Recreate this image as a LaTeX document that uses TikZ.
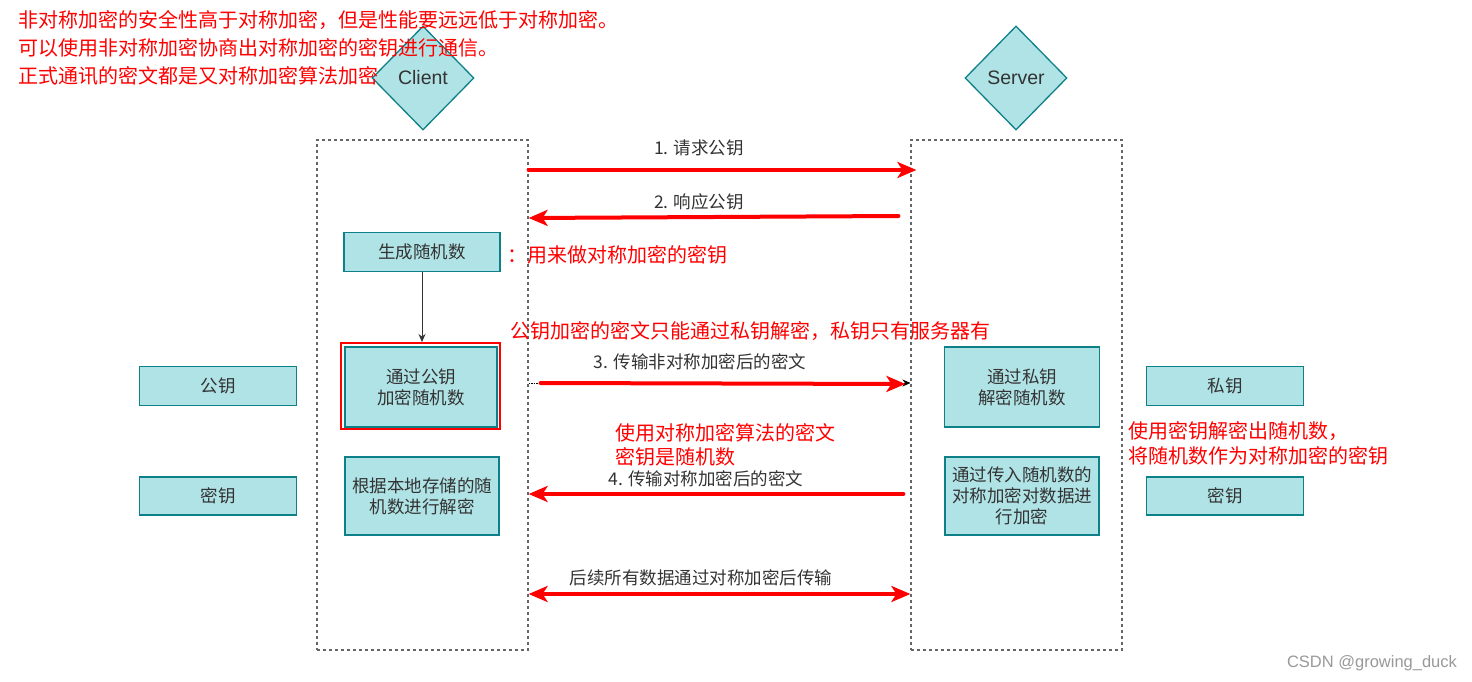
\documentclass[tikz,border=0pt]{standalone}
\usepackage{fontspec}
\setmainfont{Liberation Sans}
\newfontfamily\cjk{Noto Sans CJK SC}
\usetikzlibrary{shapes.geometric,arrows.meta}
\definecolor{boxfill}{HTML}{B0E3E6}
\definecolor{boxline}{HTML}{0E8088}
\definecolor{txt}{HTML}{333333}
\definecolor{hl}{HTML}{FF0000}
\definecolor{frame}{HTML}{666666}
\definecolor{mark}{HTML}{999999}

\begin{document}
\begin{tikzpicture}[x=1pt,y=-1pt,
  box/.style={draw=boxline, fill=boxfill, line width=1.3pt, inner sep=0pt, text=txt,
    font=\cjk\fontsize{17.5}{21}\selectfont, align=center},
  actor/.style={diamond, draw=boxline, fill=boxfill, line width=1.3pt, inner sep=0pt,
    minimum width=102pt, minimum height=104pt, font=\fontsize{19.5}{22}\selectfont, text=txt},
  lane/.style={draw=frame, dash pattern=on 3pt off 3pt, line width=1.2pt, inner sep=0pt},
  redtip/.tip={Stealth[length=19pt,width=16pt,inset=5pt]},
  msg/.style={draw=hl, line width=4pt, line cap=round, -redtip},
  duplex/.style={draw=hl, line width=4pt, redtip-redtip},
  lbl/.style={text=txt, font=\cjk\fontsize{17.5}{20}\selectfont, inner sep=0pt},
  note/.style={text=hl, font=\cjk\fontsize{20}{28}\selectfont, align=left, anchor=west, inner sep=0pt},
]
\useasboundingbox[fill=white] (0,0) rectangle (1472,682);

% lanes
\node[lane, minimum width=211pt, minimum height=510pt] (clane) at (422.5,395) {};
\node[lane, minimum width=211pt, minimum height=510pt] (slane) at (1016.5,395) {};

% actors
\node[actor] (client) at (423,78) {Client};
\node[actor] (server) at (1016,78) {Server};

% client side
\node[box, minimum width=156pt, minimum height=39pt] (gen) at (422,252) {生成随机数};
\node[draw=hl, line width=2pt, minimum width=159pt, minimum height=86pt, inner sep=0pt] (encring) at (420.5,386) {};
\node[box, minimum width=152pt, minimum height=80pt] (enc) at (421,387) {通过公钥\\加密随机数};
\node[box, minimum width=154pt, minimum height=78pt] (dec) at (422,496) {根据本地存储的随\\机数进行解密};

% server side
\node[box, minimum width=155pt, minimum height=80pt] (sdec) at (1022,387) {通过私钥\\解密随机数};
\node[box, minimum width=154pt, minimum height=78pt] (senc) at (1022,496) {通过传入随机数的\\对称加密对数据进\\行加密};

% keys
\node[box, minimum width=157pt, minimum height=39pt] (pub) at (218,386) {公钥};
\node[box, minimum width=157pt, minimum height=38pt] (ckey) at (218,496) {密钥};
\node[box, minimum width=157pt, minimum height=39pt] (priv) at (1225,386) {私钥};
\node[box, minimum width=157pt, minimum height=38pt] (skey) at (1225,496) {密钥};

% local step
\draw[txt, line width=1pt, -{Stealth[length=8pt,width=7pt]}] (gen.south) -- (gen.south |- encring.north);

% messages
\draw[msg] (clane.east |- 0,170) -- ([xshift=6pt]slane.west |- 0,170);
\node[lbl] (m1) at (699,148) {1. 请求公钥};

\draw[msg] ([xshift=-12pt]slane.west |- 0,216) -- (clane.east |- 0,218);
\node[lbl] (m2) at (699,202) {2. 响应公钥};

\draw[black, line width=0.8pt, dash pattern=on 1.5pt off 1pt, -{Stealth[length=8pt,width=7pt]}] (clane.east |- 0,383) -- (slane.west |- 0,383);
\draw[msg] ([xshift=12pt]clane.east |- 0,383) -- ([xshift=-5pt]slane.west |- 0,384);
\node[lbl] (m3) at (700,362) {3. 传输非对称加密后的密文};

\draw[msg] ([xshift=-7pt]slane.west |- 0,494) -- (clane.east |- 0,494);
\node[lbl] (m4) at (706,479) {4. 传输对称加密后的密文};

\draw[duplex] (clane.east |- 0,594) -- (slane.west |- 0,594);
\node[lbl] (m5) at (701,578) {后续所有数据通过对称加密后传输};

% notes
\node[note] (n0) at (18,48) {非对称加密的安全性高于对称加密，但是性能要远远低于对称加密。\\可以使用非对称加密协商出对称加密的密钥进行通信。\\正式通讯的密文都是又对称加密算法加密};
\node[note] (n1) at (507,255) {：用来做对称加密的密钥};
\node[note] (n2) at (510,331) {公钥加密的密文只能通过私钥解密，私钥只有服务器有};
\node[note, font=\cjk\fontsize{20}{24}\selectfont] (n3) at (615,445) {使用对称加密算法的密文\\密钥是随机数};
\node[note, font=\cjk\fontsize{20}{25}\selectfont] (n4) at (1128,443) {使用密钥解密出随机数，\\将随机数作为对称加密的密钥};

% credit
\node[text=mark, font=\fontsize{16.5}{18}\selectfont, inner sep=0pt] (credit) at (1372,663) {CSDN @growing\_duck};
\end{tikzpicture}
\end{document}
